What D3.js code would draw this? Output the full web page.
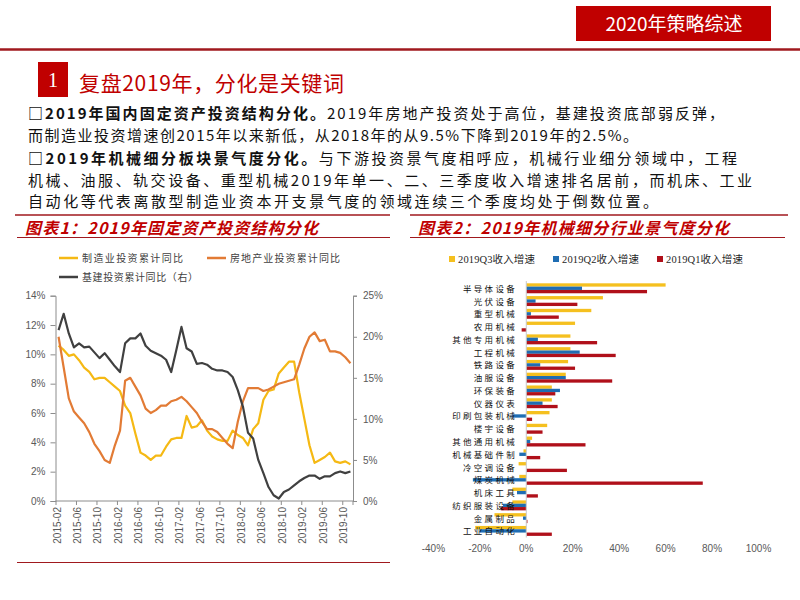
<!DOCTYPE html>
<html><head><meta charset="utf-8">
<script src="https://cdn.jsdelivr.net/npm/d3@7"></script>
<style>body{margin:0;background:#fff} svg{display:block}</style>
</head><body><svg id="c" width="800" height="600"></svg>
<script>
// ---------- Chart 1 data ----------
const months = ["2015-02","2015-03","2015-04","2015-05","2015-06","2015-07","2015-08","2015-09","2015-10","2015-11","2015-12",
"2016-01","2016-02","2016-03","2016-04","2016-05","2016-06","2016-07","2016-08","2016-09","2016-10","2016-11","2016-12",
"2017-01","2017-02","2017-03","2017-04","2017-05","2017-06","2017-07","2017-08","2017-09","2017-10","2017-11","2017-12",
"2018-01","2018-02","2018-03","2018-04","2018-05","2018-06","2018-07","2018-08","2018-09","2018-10","2018-11","2018-12",
"2019-01","2019-02","2019-03","2019-04","2019-05","2019-06","2019-07","2019-08","2019-09","2019-10","2019-11"];
const mfgInv = [10.6,10.3,9.9,10.0,9.6,9.1,8.8,8.3,8.4,8.4,8.1,7.8,7.5,6.5,6.0,4.6,3.3,3.1,2.8,3.1,3.1,3.7,4.2,4.3,4.3,5.8,5.0,5.1,5.5,
4.8,4.4,4.2,4.1,4.1,4.8,4.5,4.3,3.8,4.9,5.3,6.9,7.5,7.6,8.7,9.1,9.5,9.5,7.4,5.6,3.8,2.6,2.8,3.0,3.3,2.7,2.6,2.7,2.5];
const reInv = [11.2,9.1,7.0,6.1,5.7,5.3,4.7,3.9,3.4,2.8,2.6,3.8,4.8,8.2,8.4,7.8,7.2,6.3,6.0,6.2,6.5,6.5,6.8,6.9,7.1,6.8,6.4,6.0,5.4,
4.9,4.9,4.7,4.3,3.9,3.6,5.4,6.8,7.7,7.7,7.7,7.5,7.6,7.8,8.0,8.1,8.2,8.3,9.3,10.4,11.2,11.5,10.9,11.0,10.2,10.2,10.1,9.8,9.4];
const infraInv = [20.8,22.8,20.4,18.7,19.2,18.7,18.8,18.1,17.4,18.0,17.2,16.4,15.7,19.2,19.8,19.8,20.4,18.9,18.3,18.0,17.7,17.2,15.7,18.4,21.2,18.6,18.2,16.7,16.8,
16.6,16.1,15.9,15.9,15.7,15.1,13.5,11.5,8.3,7.6,5.0,3.4,1.7,0.7,0.3,1.1,1.4,1.9,2.4,2.8,3.1,3.1,2.7,3.0,3.0,3.4,3.6,3.4,3.6];
const leftTicks = [0,2,4,6,8,10,12,14];
const rightTicks = [0,5,10,15,20,25];
const series1Names = ["制造业投资累计同比","房地产业投资累计同比","基建投资累计同比（右）"];

// ---------- Chart 2 data ----------
const sectors = ["半导体设备","光伏设备","重型机械","农用机械","其他专用机械","工程机械","铁路设备","油服设备","环保装备","仪器仪表",
"印刷包装机械","楼宇设备","其他通用机械","机械基础件制","冷空调设备","煤炭机械","机床工具","纺织服装设备","金属制品","工业自动化"];
const q3Growth = [60,33,28,21,19,19,18,17,11,11,10,9,2.5,-1.2,-3.3,-3,-6,-6,-13.7,-22];
const q2Growth = [24,4,2,0,5,23,6,17,14.5,7,-6,0,1.7,-3,0,-23,-4,-10,-1.4,-20];
const q1Growth = [52,22,14,-2,30.5,38.5,21,37,12.5,13.5,2.5,7,25.5,6,17.5,76,5,-11,0.5,11];
const series2Names = ["2019Q3收入增速","2019Q2收入增速","2019Q1收入增速"];
const xTicks2 = [-40,-20,0,20,40,60,80,100];

const CJK = "'Noto Sans CJK SC','Noto Sans',sans-serif";
const LAT = "'Liberation Sans',Arial,sans-serif";
const RED = "#c00000";
const svg = d3.select("#c");

// ---------- Slide frame ----------
svg.append("rect").attr("x",576).attr("y",6).attr("width",195).attr("height",35).attr("fill",RED);
svg.append("text").attr("x",674).attr("y",31).attr("text-anchor","middle").attr("fill","#fff")
  .style("font-family",CJK).style("font-size","19px").text("2020年策略综述");
svg.append("line").attr("x1",0).attr("x2",800).attr("y1",49.5).attr("y2",49.5).attr("stroke","#a0191e").attr("stroke-width",2.5);
svg.append("rect").attr("x",38).attr("y",62).attr("width",30).attr("height",35).attr("fill",RED);
svg.append("text").attr("x",53).attr("y",87).attr("text-anchor","middle").attr("fill","#fff")
  .style("font-family","'Liberation Serif',serif").style("font-size","20px").text("1");
svg.append("text").attr("x",79).attr("y",91).attr("fill",RED).attr("textLength",265).attr("lengthAdjust","spacing")
  .style("font-family",CJK).style("font-size","21px").text("复盘2019年，分化是关键词");

const paras = [
  {b:"□2019年国内固定资产投资结构分化。", t:"2019年房地产投资处于高位，基建投资底部弱反弹，", y:119, w:696},
  {b:"", t:"而制造业投资增速创2015年以来新低，从2018年的从9.5%下降到2019年的2.5%。", y:141, w:610},
  {b:"□2019年机械细分板块景气度分化。", t:"与下游投资景气度相呼应，机械行业细分领域中，工程", y:164, w:709},
  {b:"", t:"机械、油服、轨交设备、重型机械2019年单一、二、三季度收入增速排名居前，而机床、工业", y:186, w:724},
  {b:"", t:"自动化等代表离散型制造业资本开支景气度的领域连续三个季度均处于倒数位置。", y:207, w:630}
];
paras.forEach(p=>{
  const t = svg.append("text").attr("x",28).attr("y",p.y).attr("textLength",p.w).attr("lengthAdjust","spacing")
    .style("font-family",CJK).style("font-size","15px").attr("fill","#111");
  if (p.b) t.append("tspan").style("font-weight","bold").text(p.b);
  t.append("tspan").text(p.t);
});

// panel rules and titles
svg.append("line").attr("x1",15).attr("x2",390).attr("y1",215).attr("y2",215).attr("stroke","#a0191e").attr("stroke-width",1.5);
svg.append("line").attr("x1",410).attr("x2",788).attr("y1",215).attr("y2",215).attr("stroke","#a0191e").attr("stroke-width",1.5);
svg.append("line").attr("x1",17).attr("x2",390).attr("y1",237.5).attr("y2",237.5).attr("stroke","#a0191e").attr("stroke-width",1.2);
svg.append("line").attr("x1",410).attr("x2",785).attr("y1",237.5).attr("y2",237.5).attr("stroke","#a0191e").attr("stroke-width",1.2);
svg.append("line").attr("x1",17).attr("x2",390).attr("y1",562.5).attr("y2",562.5).attr("stroke","#a0191e").attr("stroke-width",1.2);
svg.append("text").attr("x",25).attr("y",234).attr("fill",RED).attr("textLength",293).attr("lengthAdjust","spacing")
  .style("font-family",CJK).style("font-size","16px").style("font-weight","bold").style("font-style","italic")
  .text("图表1：2019年固定资产投资结构分化");
svg.append("text").attr("x",418).attr("y",234).attr("fill",RED).attr("textLength",311).attr("lengthAdjust","spacing")
  .style("font-family",CJK).style("font-size","16px").style("font-weight","bold").style("font-style","italic")
  .text("图表2：2019年机械细分行业景气度分化");

// ---------- Chart 1 ----------
const colors1 = ["#f5b914","#e27b35","#404040"];
const x = d3.scaleBand().domain(months).range([56,353]);
const bw = x.bandwidth();
const yL = d3.scaleLinear().domain([0,14]).range([501,295.7]);
const yR = d3.scaleLinear().domain([0,25]).range([501,295.7]);
const axisColor = "#8c8c8c", lblColor = "#595959";

const gL = svg.append("g").attr("transform","translate(55.5,0)")
  .call(d3.axisLeft(yL).tickValues(leftTicks).tickFormat(d=>d+"%").tickSize(5).tickPadding(5));
const gR = svg.append("g").attr("transform","translate(353,0)")
  .call(d3.axisRight(yR).tickValues(rightTicks).tickFormat(d=>d+"%").tickSize(4).tickPadding(6));
[gL,gR].forEach(g=>{
  g.select(".domain").attr("stroke",axisColor);
  g.selectAll(".tick line").attr("stroke",axisColor);
  g.selectAll("text").attr("fill",lblColor).style("font-family",LAT).style("font-size","10px");
});
// x axis
const gX = svg.append("g").attr("transform","translate(0,501)");
gX.append("line").attr("x1",55.5).attr("x2",353).attr("stroke",axisColor);
const tickMonths = months.filter((m,i)=>i%4===0);
gX.selectAll("line.tk").data(tickMonths.concat(["__end"])).join("line").attr("class","tk")
  .attr("x1",d=>d==="__end"?353:x(d)).attr("x2",d=>d==="__end"?353:x(d)).attr("y1",0).attr("y2",4).attr("stroke",axisColor);
gX.selectAll("text").data(tickMonths).join("text")
  .attr("transform",d=>`translate(${x(d)+1},0) rotate(-90)`)
  .attr("x",-6).attr("y",0).attr("dy","0.35em").attr("text-anchor","end")
  .attr("fill",lblColor).style("font-family",LAT).style("font-size","10px").text(d=>d);

const lineL = d3.line().x((d,i)=>x(months[i])+bw/2).y(d=>yL(d));
const lineR = d3.line().x((d,i)=>x(months[i])+bw/2).y(d=>yR(d));
svg.append("path").attr("d",lineL(mfgInv)).attr("fill","none").attr("stroke",colors1[0]).attr("stroke-width",2.2).attr("stroke-linejoin","round");
svg.append("path").attr("d",lineL(reInv)).attr("fill","none").attr("stroke",colors1[1]).attr("stroke-width",2.2).attr("stroke-linejoin","round");
svg.append("path").attr("d",lineR(infraInv)).attr("fill","none").attr("stroke",colors1[2]).attr("stroke-width",2.2).attr("stroke-linejoin","round");

// legend 1
const leg1 = [{x:59,y:258,w:101},{x:207,y:258,w:110},{x:59,y:277,w:116}];
leg1.forEach((l,i)=>{
  svg.append("line").attr("x1",l.x).attr("x2",l.x+19).attr("y1",l.y).attr("y2",l.y).attr("stroke",colors1[i]).attr("stroke-width",2.5);
  svg.append("text").attr("x",l.x+23).attr("y",l.y+3.5).attr("textLength",l.w).attr("lengthAdjust","spacing")
    .attr("fill","#404040").style("font-family",CJK).style("font-size","10px").text(series1Names[i]);
});

// ---------- Chart 2 ----------
const colors2 = ["#f5c01f","#1f6db3","#b0101a"];
const keys = ["q3","q2","q1"];
const rows = sectors.map((s,i)=>({s, q3:q3Growth[i], q2:q2Growth[i], q1:q1Growth[i]}));
const xs = d3.scaleLinear().domain([-40,100]).range([433.4,758.5]);
const yb = d3.scaleBand().domain(sectors).range([281.9,537.3]).paddingInner(0.22).paddingOuter(0.11);
const yi = d3.scaleBand().domain(keys).range([0,yb.bandwidth()]);

const gB = svg.append("g");
rows.forEach(r=>{
  keys.forEach((k,j)=>{
    const v = r[k];
    gB.append("rect").attr("x",xs(Math.min(0,v))).attr("width",Math.abs(xs(v)-xs(0)))
      .attr("y",yb(r.s)+yi(k)).attr("height",yi.bandwidth()).attr("fill",colors2[j]);
  });
});
svg.append("line").attr("x1",xs(0)).attr("x2",xs(0)).attr("y1",281).attr("y2",537.5).attr("stroke","#c8c8c8");
svg.append("g").selectAll("text").data(sectors).join("text")
  .attr("x",517).attr("y",d=>yb(d)+yb.bandwidth()/2+3.5).attr("text-anchor","end")
  .attr("fill","#111").style("font-family",CJK).style("font-size","8.5px").style("letter-spacing","2.3px").text(d=>d);
svg.append("g").selectAll("text").data(xTicks2).join("text")
  .attr("x",d=>xs(d)).attr("y",552).attr("text-anchor","middle")
  .attr("fill",lblColor).style("font-family",LAT).style("font-size","10px").text(d=>d+"%");

// legend 2
const leg2x = [449,553,657];
series2Names.forEach((n,i)=>{
  svg.append("rect").attr("x",leg2x[i]).attr("y",256).attr("width",6).attr("height",6).attr("fill",colors2[i]);
  svg.append("text").attr("x",leg2x[i]+9).attr("y",262.5).attr("textLength",77).attr("lengthAdjust","spacing")
    .attr("fill","#262626").style("font-family","'Liberation Serif','Noto Sans CJK SC',serif").style("font-size","10.5px").text(n);
});
</script></body></html>
